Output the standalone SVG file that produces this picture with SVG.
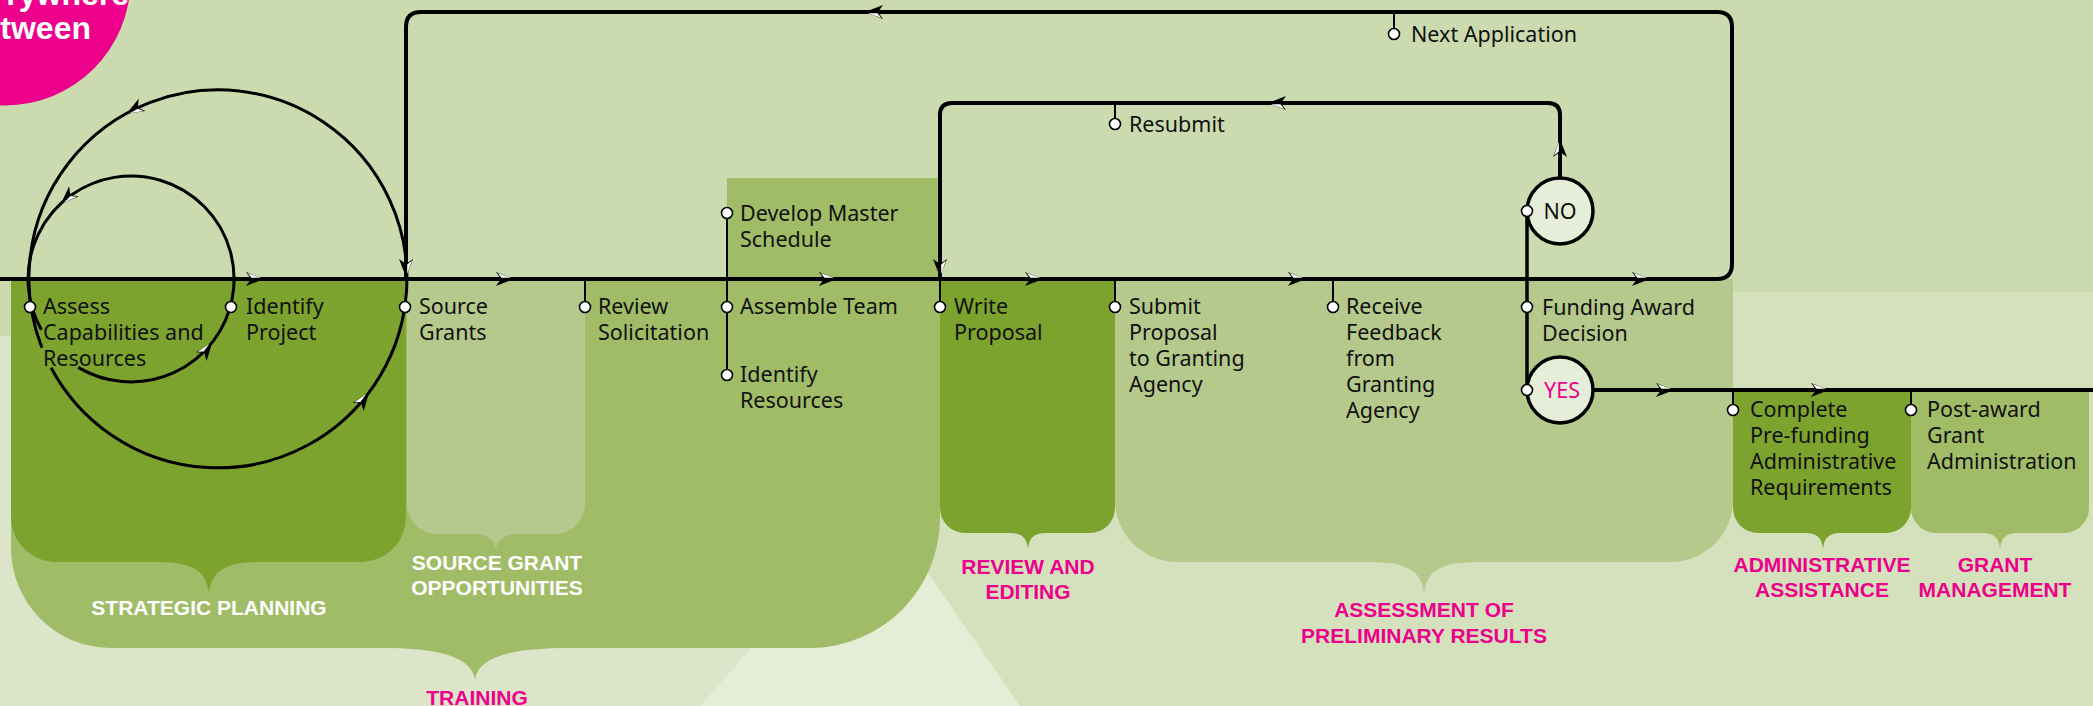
<svg xmlns="http://www.w3.org/2000/svg" xmlns:xlink="http://www.w3.org/1999/xlink" width="2093" height="706" viewBox="0 0 2093 706">
<defs>
<style>
.t{font-family:"Noto Sans","Liberation Sans",Arial,sans-serif;font-size:21.5px;fill:#111}
.h{font-family:"Liberation Sans",Arial,sans-serif;font-size:21px;font-weight:bold;text-anchor:middle}
.w{fill:#fff}
.m{fill:#EC008C}
.ln{fill:none;stroke:#000;stroke-width:4;stroke-linejoin:round}
.lp{fill:none;stroke:#000;stroke-width:3}
.st{fill:none;stroke:#000;stroke-width:2}
.dot{fill:#fff;stroke:#000;stroke-width:1.6}
.dec{fill:#E6EDD8;stroke:#000;stroke-width:3.5}
</style>
<g id="ah">
<path d="M0,0 L-18,-7 L-13,0 L-18,7 Z" fill="#000"/>
<path d="M-3,-1.2 L-16.5,-6 L-12.4,-1.2 Z" fill="#fff"/>
</g>
</defs>

<!-- background -->
<rect x="0" y="0" width="2093" height="706" fill="#CCDBAF"/>
<rect x="600" y="292" width="1493" height="414" fill="#D5E1BC"/>
<polygon points="0,336 900,336 879,502 700,706 0,706" fill="#DCE5C9"/>
<polygon points="879,502 1020,706 700,706" fill="#E5EDD6"/>
<circle cx="5" cy="-20" r="125.5" fill="#EC008C"/>
<text x="129" y="5" font-family="Liberation Sans,Arial,sans-serif" font-size="32" font-weight="bold" fill="#fff" text-anchor="end">rywhere</text>
<text x="91" y="39" font-family="Liberation Sans,Arial,sans-serif" font-size="32" font-weight="bold" fill="#fff" text-anchor="end">tween</text>

<!-- phase areas -->
<g id="training">
<path d="M11,279 H727 V178 H940 V518 A130,130 0 0 1 810,648 H568 C520,648 478,654 475,680 C472,654 430,648 383,648 H111 A100,100 0 0 1 11,548 Z" fill="#A0BC67"/>
<text class="h m" x="477" y="705">TRAINING</text>
</g>
<g id="strategic-planning">
<path d="M11,279 H406 V517 A45,45 0 0 1 361,562 H261 C230,562 212,568 209,593 C206,568 188,562 157,562 H56 A45,45 0 0 1 11,517 Z" fill="#7DA32F"/>
<text class="h w" x="209" y="615">STRATEGIC PLANNING</text>
</g>
<g id="source-grant-opportunities">
<path d="M407,279 H585 V504 A30,30 0 0 1 555,534 H521 C503,534 497,539 496,550 C495,539 489,534 471,534 H437 A30,30 0 0 1 407,504 Z" fill="#B6C98C"/>
<text class="h w" x="497" y="570">SOURCE GRANT</text>
<text class="h w" x="497" y="595">OPPORTUNITIES</text>
</g>
<g id="review-editing">
<path d="M940,279 H1115 V508 A25,25 0 0 1 1090,533 H1045 C1034,533 1029,538 1028,549 C1027,538 1022,533 1011,533 H965 A25,25 0 0 1 940,508 Z" fill="#7DA32F"/>
<text class="h m" x="1028" y="574">REVIEW AND</text>
<text class="h m" x="1028" y="599">EDITING</text>
</g>
<g id="assessment">
<path d="M1115,279 H1733 V500 A62,62 0 0 1 1671,562 H1481 C1440,562 1428,570 1424,593 C1420,570 1408,562 1367,562 H1177 A62,62 0 0 1 1115,500 Z" fill="#B6C98C"/>
<text class="h m" x="1424" y="617">ASSESSMENT OF</text>
<text class="h m" x="1424" y="643">PRELIMINARY RESULTS</text>
</g>
<g id="administrative-assistance">
<path d="M1733,392 H1911 V508 A25,25 0 0 1 1886,533 H1840 C1829,533 1824,538 1823,549 C1822,538 1817,533 1806,533 H1758 A25,25 0 0 1 1733,508 Z" fill="#7DA32F"/>
<text class="h m" x="1822" y="572">ADMINISTRATIVE</text>
<text class="h m" x="1822" y="597">ASSISTANCE</text>
</g>
<g id="grant-management">
<path d="M1911,392 H2089 V508 A25,25 0 0 1 2064,533 H2017 C2006,533 2001,538 2000,549 C1999,538 1994,533 1983,533 H1936 A25,25 0 0 1 1911,508 Z" fill="#A0BC67"/>
<text class="h m" x="1995" y="572">GRANT</text>
<text class="h m" x="1995" y="597">MANAGEMENT</text>
</g>

<!-- connectors -->
<g id="connectors">
<path class="ln" d="M0,279 H1717 Q1732,279 1732,264 V27 Q1732,12 1717,12 H421 Q406,12 406,27 V279"/>
<path class="ln" d="M1560,178 V115 Q1560,103 1548,103 H952 Q940,103 940,115 V279"/>
<path class="ln" d="M1593,390 H2093"/>
<path fill="none" stroke="#000" stroke-width="3.5" d="M1527,211 V390"/>
<path class="lp" d="M78.2,367.4 A103,103 0 1 0 41.4,329.7"/>
<path class="lp" d="M51.1,367.7 A189,189 0 1 0 41.9,347.7"/>
<path class="st" d="M727,213 V375"/>
<path class="st" d="M585,279 V307 M940,279 V307 M1115,279 V307 M1333,279 V307 M1115,103 V124 M1394,12 V34 M1733,390 V410 M1911,390 V410"/>
<use xlink:href="#ah" transform="translate(264,279)"/>
<use xlink:href="#ah" transform="translate(514,279)"/>
<use xlink:href="#ah" transform="translate(837,279)"/>
<use xlink:href="#ah" transform="translate(1043,279)"/>
<use xlink:href="#ah" transform="translate(1306,279)"/>
<use xlink:href="#ah" transform="translate(1650,279)"/>
<use xlink:href="#ah" transform="translate(865,12) rotate(180)"/>
<use xlink:href="#ah" transform="translate(1268,103) rotate(180)"/>
<use xlink:href="#ah" transform="translate(406,277) rotate(90)"/>
<use xlink:href="#ah" transform="translate(940,277) rotate(90)"/>
<use xlink:href="#ah" transform="translate(1560,139) rotate(-90)"/>
<use xlink:href="#ah" transform="translate(1674,390)"/>
<use xlink:href="#ah" transform="translate(1829,390)"/>
<use xlink:href="#ah" transform="translate(126.4,113.7) rotate(151)"/>
<use xlink:href="#ah" transform="translate(60.8,203.7) rotate(137)"/>
<use xlink:href="#ah" transform="translate(212.2,342.4) rotate(-52)"/>
<use xlink:href="#ah" transform="translate(368.9,392.7) rotate(-53)"/>
</g>

<!-- nodes -->
<g id="assess"><circle class="dot" cx="30" cy="307" r="5.5"/><text class="t" x="43" y="314">Assess<tspan x="43" dy="26">Capabilities and</tspan><tspan x="43" dy="26">Resources</tspan></text></g>
<g id="identify-project"><circle class="dot" cx="231" cy="307" r="5.5"/><text class="t" x="246" y="314">Identify<tspan x="246" dy="26">Project</tspan></text></g>
<g id="source-grants"><circle class="dot" cx="405" cy="307" r="5.5"/><text class="t" x="419" y="314">Source<tspan x="419" dy="26">Grants</tspan></text></g>
<g id="review-solicitation"><circle class="dot" cx="585" cy="307" r="5.5"/><text class="t" x="598" y="314">Review<tspan x="598" dy="26">Solicitation</tspan></text></g>
<g id="develop-master-schedule"><circle class="dot" cx="727" cy="213" r="5.5"/><text class="t" x="740" y="221">Develop Master<tspan x="740" dy="26">Schedule</tspan></text></g>
<g id="assemble-team"><circle class="dot" cx="727" cy="307" r="5.5"/><text class="t" x="740" y="314">Assemble Team</text></g>
<g id="identify-resources"><circle class="dot" cx="727" cy="375" r="5.5"/><text class="t" x="740" y="382">Identify<tspan x="740" dy="26">Resources</tspan></text></g>
<g id="write-proposal"><circle class="dot" cx="940" cy="307" r="5.5"/><text class="t" x="954" y="314">Write<tspan x="954" dy="26">Proposal</tspan></text></g>
<g id="resubmit"><circle class="dot" cx="1115" cy="124" r="5.5"/><text class="t" x="1129" y="132">Resubmit</text></g>
<g id="submit-proposal"><circle class="dot" cx="1115" cy="307" r="5.5"/><text class="t" x="1129" y="314">Submit<tspan x="1129" dy="26">Proposal</tspan><tspan x="1129" dy="26">to Granting</tspan><tspan x="1129" dy="26">Agency</tspan></text></g>
<g id="receive-feedback"><circle class="dot" cx="1333" cy="307" r="5.5"/><text class="t" x="1346" y="314">Receive<tspan x="1346" dy="26">Feedback</tspan><tspan x="1346" dy="26">from</tspan><tspan x="1346" dy="26">Granting</tspan><tspan x="1346" dy="26">Agency</tspan></text></g>
<g id="next-application"><circle class="dot" cx="1394" cy="34" r="5.5"/><text class="t" x="1411" y="42">Next Application</text></g>
<g id="no"><circle class="dec" cx="1560" cy="211" r="33"/><circle class="dot" cx="1527" cy="211" r="5.5"/><text class="t" x="1560" y="219" text-anchor="middle">NO</text></g>
<g id="funding-award-decision"><circle class="dot" cx="1527" cy="307" r="5.5"/><text class="t" x="1542" y="315">Funding Award<tspan x="1542" dy="26">Decision</tspan></text></g>
<g id="yes"><circle class="dec" cx="1560" cy="390" r="33"/><circle class="dot" cx="1527" cy="390" r="5.5"/><text class="t" x="1562" y="398" text-anchor="middle" style="fill:#EC008C">YES</text></g>
<g id="complete-pre-funding"><circle class="dot" cx="1733" cy="410" r="5.5"/><text class="t" x="1750" y="417">Complete<tspan x="1750" dy="26">Pre-funding</tspan><tspan x="1750" dy="26">Administrative</tspan><tspan x="1750" dy="26">Requirements</tspan></text></g>
<g id="post-award"><circle class="dot" cx="1911" cy="410" r="5.5"/><text class="t" x="1927" y="417">Post-award<tspan x="1927" dy="26">Grant</tspan><tspan x="1927" dy="26">Administration</tspan></text></g>
</svg>
